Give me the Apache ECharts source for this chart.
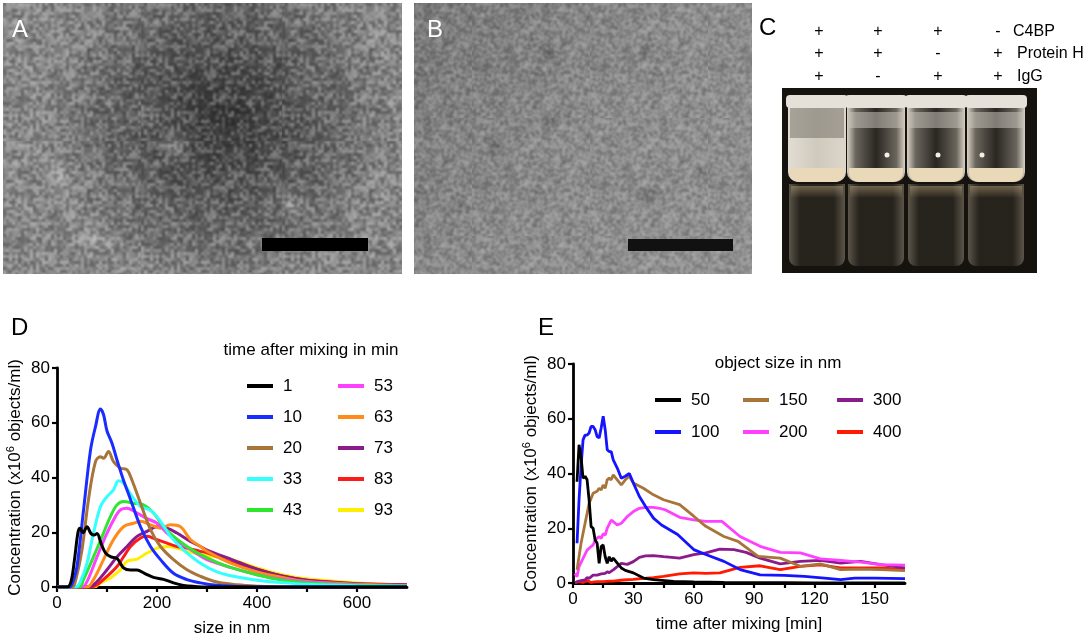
<!DOCTYPE html>
<html>
<head>
<meta charset="utf-8">
<script src="https://cdn.jsdelivr.net/npm/echarts@6/dist/echarts.min.js"></script>
<style>
  html, body { margin: 0; padding: 0; background: #fff; }
  #main { width: 1091px; height: 642px; }
</style>
</head>
<body>
<div id="main"></div>
<script>
// ---- panel D: size distribution, [size nm, concentration] per mixing time ----
const timeNames = ['1', '10', '20', '33', '43', '53', '63', '73', '83', '93'];
const timeColors = ['#000000', '#1a2cff', '#a8743a', '#33ffff', '#2ee62e', '#ff40ff', '#ff8c1a', '#8b1a8b', '#ff1a1a', '#ffee00'];

const d1 = [[0,0],[20,0],[28,2],[35,10],[42,20],[46,21.5],[52,19.8],[60,22],[68,19.5],[75,19],[80,19.5],[88,16],[97,12.5],[108,11],[120,10.5],[133,7],[147,6.2],[160,6.2],[175,5],[193,3.5],[213,2.8],[233,1.5],[253,0.6],[275,0.2],[300,0],[700,0]];
const d10 = [[0,0],[25,0],[32,2],[40,7.5],[53,28],[67,50],[77,58.6],[87,65],[93,63],[100,57],[110,52.5],[120,46.4],[133,39],[147,32],[167,22],[187,14.8],[207,10],[233,5],[260,2.7],[287,1.5],[320,0.6],[360,0.2],[400,0],[700,0]];
const d20 = [[0,0],[30,0],[38,3],[50,13.6],[63,32],[77,45.8],[87,47.6],[93,47],[103,49.5],[113,45.8],[127,43.4],[140,42.8],[150,39],[167,30.6],[187,21],[207,14.8],[233,10],[260,6.3],[287,3.9],[320,1.8],[360,0.8],[400,0.3],[450,0],[700,0]];
const d33 = [[0,0],[38,0],[48,2.5],[60,8.7],[73,19.7],[87,29.4],[100,33],[113,35.5],[123,38.8],[133,38],[147,34],[167,29.4],[187,28],[207,24],[227,18.5],[253,13.6],[287,8.7],[320,5.5],[350,4],[400,2.5],[450,1.6],[500,1],[600,0.5],[700,0.3]];
const d43 = [[0,0],[45,0],[53,2.7],[73,11],[93,19.7],[107,25.8],[120,30],[133,31.2],[153,30.6],[173,30],[193,27],[213,22],[233,18.5],[260,14.8],[287,11.8],[320,9],[350,7],[400,4.5],[450,2.5],[500,1.5],[600,0.7],[700,0.4]];
const d53 = [[0,0],[50,0],[60,2],[80,11],[100,19.7],[117,25.8],[127,28.2],[140,28.8],[160,27],[180,25],[200,23.3],[220,19.7],[247,16],[273,13],[300,10],[350,7],[400,4.5],[450,2.8],[500,1.8],[600,0.8],[700,0.4]];
const d63 = [[0,0],[60,0],[73,2.7],[93,10],[113,17.3],[133,22],[153,23.3],[167,24],[187,22.7],[207,21.5],[227,22.7],[247,22],[267,17.3],[287,14.8],[300,13],[350,8.5],[400,5.5],[450,3.5],[500,2],[600,1],[700,0.5]];
const d73 = [[0,0],[65,0],[80,2],[100,6.3],[120,11],[140,14.8],[160,18.5],[180,20.3],[200,22],[220,21.5],[240,19.7],[267,16.6],[287,14.8],[300,13.5],[350,10],[400,6.5],[450,4],[500,2.5],[600,1.2],[700,0.7]];
const d83 = [[0,0],[70,0],[80,0.8],[100,3.9],[120,7.5],[133,11],[147,14.8],[167,17.9],[180,18.5],[200,17.3],[220,16],[240,14.8],[260,14.2],[287,13],[300,12.5],[350,9],[400,6.5],[450,4],[500,2.5],[550,1.8],[600,1.2],[700,0.8]];
const d93 = [[0,0],[75,0],[87,1.5],[107,3.3],[127,6.3],[140,9.4],[160,10.2],[180,12.4],[200,14.2],[220,14.8],[240,14.2],[260,13],[287,11.8],[300,11.5],[350,10],[400,7],[450,4.5],[500,3],[550,2.2],[600,1.5],[700,0.8]];
const dData = [d1, d10, d20, d33, d43, d53, d63, d73, d83, d93];

// ---- panel E: kinetics, [time min, concentration] per object size ----
const sizeNames = ['50', '100', '150', '200', '300', '400'];
const sizeColors = ['#000000', '#1414ff', '#a8743a', '#ff40ff', '#8b1a8b', '#ff1a00'];

const e50 = [[2,37],[3,50.5],[4,46],[5,38.3],[6,39],[7,37.7],[8,30.4],[9,20.6],[10,20],[11,15.7],[12,14.5],[13,7.2],[14,13.3],[15,13.9],[16,9.6],[17,7.2],[18,9.6],[19,8],[20,9.1],[22,7.3],[24,5.5],[26,4.6],[30,3.7],[35,1.8],[40,1.2],[50,0.6],[60,0.4],[75,0.2],[90,0.1],[105,0.1],[120,0],[165,0]];
const e100 = [[2,14.5],[3,30.4],[4,42.6],[5,52.3],[6,54],[7,54],[8,54.8],[9,57.2],[10,57.2],[11,56],[12,53.5],[13,53],[14,56.6],[15,60.9],[16,56],[17,48.7],[18,48],[19,48],[20,45],[22,42],[24,38.3],[26,39],[28,40],[30,36.5],[33,31.6],[36,28],[40,23.7],[44,21.2],[52,17.7],[60,12.2],[66,10.4],[75,7.9],[83,4.9],[93,3],[105,2.8],[115,2.4],[125,1.8],[133,1.2],[140,1.8],[150,1.8],[165,1.6]];
const e150 = [[2,4.8],[4,14.5],[6,21.8],[8,29],[10,32.8],[12,33.5],[13,34.6],[14,34],[15,35.8],[16,34.6],[17,37.7],[18,38.3],[19,37.7],[20,39.5],[22,37.7],[24,35.8],[26,37.7],[28,39],[30,36.5],[35,34.6],[40,32.2],[45,30.4],[53,28.6],[60,24.4],[66,20.7],[75,17],[82,15.2],[92,9.7],[103,9.1],[113,6.1],[123,7],[133,4.9],[143,5.1],[153,4.9],[165,4.5]];
const e200 = [[1,3.5],[2,2.3],[3,6],[5,9],[7,12],[8,12.7],[10,13.9],[11,15.7],[13,17],[14,16.3],[15,18],[16,17.5],[17,20],[19,23],[20,22.4],[22,21.2],[24,21.8],[27,24.3],[30,26.1],[33,27.3],[36,27.6],[40,27.6],[43,27.3],[46,26.7],[53,24],[60,23.1],[66,22.5],[74,22.5],[83,17],[93,13.4],[103,11.2],[113,11],[123,8.8],[133,8.3],[143,7.6],[153,6.7],[165,6.5]];
const e300 = [[1,0.1],[2,0.5],[4,0.9],[6,1.1],[7,2],[8,1.7],[10,2.9],[12,2.9],[14,3.3],[16,3.5],[17,4.1],[18,3.8],[20,4.8],[22,6],[24,7.2],[27,6.8],[30,7.8],[33,9.4],[36,9.9],[40,10],[45,9.6],[53,9.1],[60,10.4],[66,11],[73,12.4],[80,12.2],[86,11.2],[93,9.1],[103,7],[113,7.9],[123,8.3],[133,7.3],[143,7.9],[153,6.7],[165,5.5]];
const e400 = [[1,0.1],[3,0.5],[5,0.2],[7,0.9],[9,0.2],[12,0.5],[15,0.5],[18,0.7],[20,0.7],[25,1.1],[30,1.3],[35,1.7],[40,2],[45,2.4],[53,3.3],[60,3.7],[66,3.5],[73,3.7],[83,5.7],[93,6.3],[103,4.9],[113,6.1],[123,6.6],[133,5.5],[143,5.5],[153,5.5],[165,4.9]];
const eData = [e50, e100, e150, e200, e300, e400];

// panel C labels
const tubeCols = [819, 878, 938, 998];
const c4bpRow = ['+', '+', '+', '-'];
const proteinHRow = ['+', '+', '-', '+'];
const iggRow = ['+', '-', '+', '+'];

const FONT = 'Liberation Sans, Arial, Helvetica, sans-serif';
let myChart = echarts.init(document.getElementById('main'));

// mottled texture for the micrograph panels (fixed hash, not data)
function grain(cells, cell, strength) {
  let size = cells * cell;
  let raw = document.createElement('canvas');
  raw.width = size; raw.height = size;
  let rctx = raw.getContext('2d');
  for (let y = 0; y < cells; y++) {
    for (let x = 0; x < cells; x++) {
      let h = Math.sin(x * 127.1 + y * 311.7) * 43758.5453;
      h = h - Math.floor(h);
      let v = h > 0.5 ? 255 : 0;
      rctx.fillStyle = 'rgba(' + v + ',' + v + ',' + v + ',' + (Math.abs(h - 0.5) * 2 * strength).toFixed(3) + ')';
      rctx.fillRect(x * cell, y * cell, cell, cell);
    }
  }
  let c = document.createElement('canvas');
  c.width = size; c.height = size;
  let ctx = c.getContext('2d');
  ctx.filter = 'blur(0.8px)';
  ctx.drawImage(raw, 0, 0);
  return { image: c, repeat: 'repeat' };
}

function axisX(gridIndex, max, step, labelStep, name) {
  return {
    type: 'value', gridIndex: gridIndex, min: 0, max: max, interval: step,
    name: name, nameLocation: 'middle', nameGap: 33,
    nameTextStyle: { fontSize: 17, color: '#000', fontFamily: FONT },
    axisLine: { lineStyle: { color: '#000', width: 2.8 } },
    axisTick: { length: 5, lineStyle: { color: '#000', width: 2.2 } },
    axisLabel: {
      fontSize: 17, color: '#000', fontFamily: FONT, margin: 8, showMaxLabel: false,
      formatter: function (v) { return v % labelStep === 0 ? v : ''; }
    },
    splitLine: { show: false }
  };
}
function axisY(gridIndex) {
  return {
    type: 'value', gridIndex: gridIndex, min: 0, max: 80, interval: 20,
    name: 'Concentration (x10{sup|6} objects/ml)', nameLocation: 'middle', nameGap: 32, nameRotate: 90,
    nameTextStyle: {
      fontSize: 17, color: '#000', fontFamily: FONT,
      rich: { sup: { fontSize: 11, color: '#000', fontFamily: FONT, verticalAlign: 'top', padding: [0, 0, 9, 0] } }
    },
    axisLine: { show: true, lineStyle: { color: '#000', width: 2.8 } },
    axisTick: { show: true, length: 5, lineStyle: { color: '#000', width: 2.2 } },
    axisLabel: { fontSize: 17, color: '#000', fontFamily: FONT, margin: 7 },
    splitLine: { show: false }
  };
}
function legendCol(names, left, top, gap) {
  return {
    data: names, orient: 'vertical', left: left, top: top, itemGap: gap,
    icon: 'rect', itemWidth: 26, itemHeight: 4, selectedMode: false,
    textStyle: { fontSize: 17, color: '#000', fontFamily: FONT, lineHeight: 20, padding: [0, 0, 0, 5] }
  };
}

let series = [];
dData.forEach(function (d, i) {
  series.push({
    name: timeNames[i], type: 'line', xAxisIndex: 0, yAxisIndex: 0, data: d,
    smooth: 0.35, showSymbol: false, z: 30 - i,
    lineStyle: { color: timeColors[i], width: 3 }, itemStyle: { color: timeColors[i] }
  });
});
eData.forEach(function (d, i) {
  series.push({
    name: sizeNames[i], type: 'line', xAxisIndex: 1, yAxisIndex: 1, data: d,
    showSymbol: false, z: 30 - i,
    lineStyle: { color: sizeColors[i], width: 2.8 }, itemStyle: { color: sizeColors[i] }
  });
});

// picture panels (A, B, C) drawn as plain shapes
function txt(x, y, s, size, color, align) {
  return { type: 'text', x: x, y: y, silent: true,
    style: { text: s, fontSize: size, fill: color || '#000', fontFamily: FONT, align: align || 'left', verticalAlign: 'middle' } };
}
function glow(cx, cy, r, c) {
  return { type: 'circle', shape: { cx: cx, cy: cy, r: r }, silent: true,
    style: { fill: new echarts.graphic.RadialGradient(0.5, 0.5, 0.5, [{ offset: 0, color: c }, { offset: 1, color: 'rgba(128,128,128,0)' }]) } };
}
let graphics = [
  // A
  { type: 'rect', shape: { x: 3, y: 3, width: 399, height: 271 }, silent: true,
    style: { fill: new echarts.graphic.RadialGradient(0.55, 0.42, 0.65, [
      { offset: 0, color: '#363636' }, { offset: 0.45, color: '#555' }, { offset: 1, color: '#8a8a8a' }]) } },
  glow(60, 175, 26, 'rgba(200,200,200,0.55)'), glow(95, 240, 26, 'rgba(200,200,200,0.5)'),
  glow(175, 145, 22, 'rgba(190,190,190,0.5)'), glow(290, 205, 20, 'rgba(210,210,210,0.5)'),
  glow(365, 122, 14, 'rgba(180,180,180,0.4)'), glow(150, 110, 30, 'rgba(150,150,150,0.35)'),
  glow(300, 90, 35, 'rgba(150,150,150,0.3)'),
  { type: 'rect', shape: { x: 3, y: 3, width: 399, height: 271 }, silent: true, style: { fill: grain(47, 3, 0.32) } },
  { type: 'rect', shape: { x: 262, y: 238, width: 106, height: 13 }, silent: true, style: { fill: '#000' } },
  txt(12, 30, 'A', 24, '#fff'),
  // B
  { type: 'rect', shape: { x: 414, y: 3, width: 338, height: 271 }, silent: true,
    style: { fill: new echarts.graphic.LinearGradient(0, 0, 1, 1, [
      { offset: 0, color: '#777' }, { offset: 0.5, color: '#8d8d8d' }, { offset: 1, color: '#939393' }]) } },
  glow(548, 52, 14, 'rgba(70,70,70,0.5)'), glow(645, 52, 14, 'rgba(70,70,70,0.5)'),
  glow(553, 120, 13, 'rgba(70,70,70,0.45)'), glow(495, 148, 13, 'rgba(70,70,70,0.45)'),
  glow(458, 205, 13, 'rgba(70,70,70,0.45)'), glow(647, 195, 14, 'rgba(70,70,70,0.45)'),
  glow(700, 172, 13, 'rgba(80,80,80,0.4)'),
  { type: 'rect', shape: { x: 414, y: 3, width: 338, height: 271 }, silent: true, style: { fill: grain(59, 2, 0.28) } },
  { type: 'rect', shape: { x: 628, y: 239, width: 105, height: 12 }, silent: true, style: { fill: '#111' } },
  txt(427, 30, 'B', 24, '#fff'),
  // C
  txt(759, 28, 'C', 24, '#000'),
  { type: 'rect', shape: { x: 782, y: 88, width: 255, height: 185 }, silent: true, style: { fill: '#16130f' } }
];
tubeCols.forEach(function (cx, i) {
  graphics.push(txt(cx, 32, c4bpRow[i], 16, '#000', 'center'));
  graphics.push(txt(cx, 54, proteinHRow[i], 16, '#000', 'center'));
  graphics.push(txt(cx, 77, iggRow[i], 16, '#000', 'center'));
  let cloudy = i === 0;
  let vx = cx - 2;
  // reflection
  graphics.push({ type: 'rect', shape: { x: vx - 28, y: 184, width: 56, height: 82, r: [0, 0, 8, 8] }, silent: true,
    style: { fill: new echarts.graphic.LinearGradient(0, 0, 1, 0, [
      { offset: 0, color: 'rgba(160,150,130,0.5)' }, { offset: 0.2, color: 'rgba(55,50,42,0.5)' },
      { offset: 0.8, color: 'rgba(55,50,42,0.5)' }, { offset: 1, color: 'rgba(160,150,130,0.5)' }]) } });
  graphics.push({ type: 'rect', shape: { x: vx - 26, y: 186, width: 52, height: 12 }, silent: true,
    style: { fill: new echarts.graphic.LinearGradient(0, 0, 0, 1, [
      { offset: 0, color: 'rgba(180,160,120,0.5)' }, { offset: 1, color: 'rgba(180,160,120,0)' }]) } });
  // body
  graphics.push({ type: 'rect', shape: { x: vx - 29, y: 106, width: 58, height: 76, r: [0, 0, 10, 10] }, silent: true,
    style: { fill: new echarts.graphic.LinearGradient(0, 0, 1, 0, cloudy ? [
      { offset: 0, color: '#e2ddd2' }, { offset: 0.5, color: '#cfc9be' }, { offset: 1, color: '#ddd6ca' }] : [
      { offset: 0, color: '#d8d2c6' }, { offset: 0.15, color: '#6a655c' }, { offset: 0.5, color: '#2a2722' }, { offset: 0.85, color: '#6a655c' }, { offset: 1, color: '#d8d2c6' }]) } });
  if (cloudy) {
    graphics.push({ type: 'rect', shape: { x: vx - 27, y: 108, width: 54, height: 30 }, silent: true, style: { fill: 'rgba(110,105,95,0.5)' } });
  } else {
    graphics.push({ type: 'rect', shape: { x: vx - 27, y: 112, width: 54, height: 16 }, silent: true, style: { fill: 'rgba(200,195,185,0.55)' } });
  }
  // warm bottom
  graphics.push({ type: 'rect', shape: { x: vx - 27, y: 168, width: 54, height: 14, r: [0, 0, 9, 9] }, silent: true, style: { fill: '#e9d9b8' } });
  // rim
  graphics.push({ type: 'rect', shape: { x: vx - 31, y: 95, width: 62, height: 13, r: 4 }, silent: true, style: { fill: '#e6e1d8' } });
  if (!cloudy) {
    graphics.push({ type: 'circle', shape: { cx: [0, 887, 938, 982][i], cy: 155, r: 2.5 }, silent: true, style: { fill: '#f4f0e8' } });
  }
});
graphics.push(txt(1013, 32, 'C4BP', 16), txt(1017, 54, 'Protein H', 16), txt(1017, 77, 'IgG', 16));
// panel letters and legend titles for D and E
graphics.push(txt(11, 328, 'D', 24), txt(538, 328, 'E', 24));
graphics.push(txt(311, 350, 'time after mixing in min', 17, '#000', 'center'));
graphics.push(txt(778, 363, 'object size in nm', 17, '#000', 'center'));

let option = {
  animation: false,
  backgroundColor: '#fff',
  grid: [
    { left: 57, top: 368, width: 350, height: 219 },
    { left: 573, top: 364, width: 332, height: 219 }
  ],
  xAxis: [axisX(0, 700, 100, 200, 'size in nm'), axisX(1, 165, 15, 30, 'time after mixing [min]')],
  yAxis: [axisY(0), axisY(1)],
  legend: [
    legendCol(timeNames.slice(0, 5), 242, 371, 11),
    legendCol(timeNames.slice(5), 333, 371, 11),
    legendCol(['50', '100'], 650, 385, 12),
    legendCol(['150', '200'], 738, 385, 12),
    legendCol(['300', '400'], 832, 385, 12)
  ],
  graphic: graphics,
  series: series
};
myChart.setOption(option);
</script>
</body>
</html>
